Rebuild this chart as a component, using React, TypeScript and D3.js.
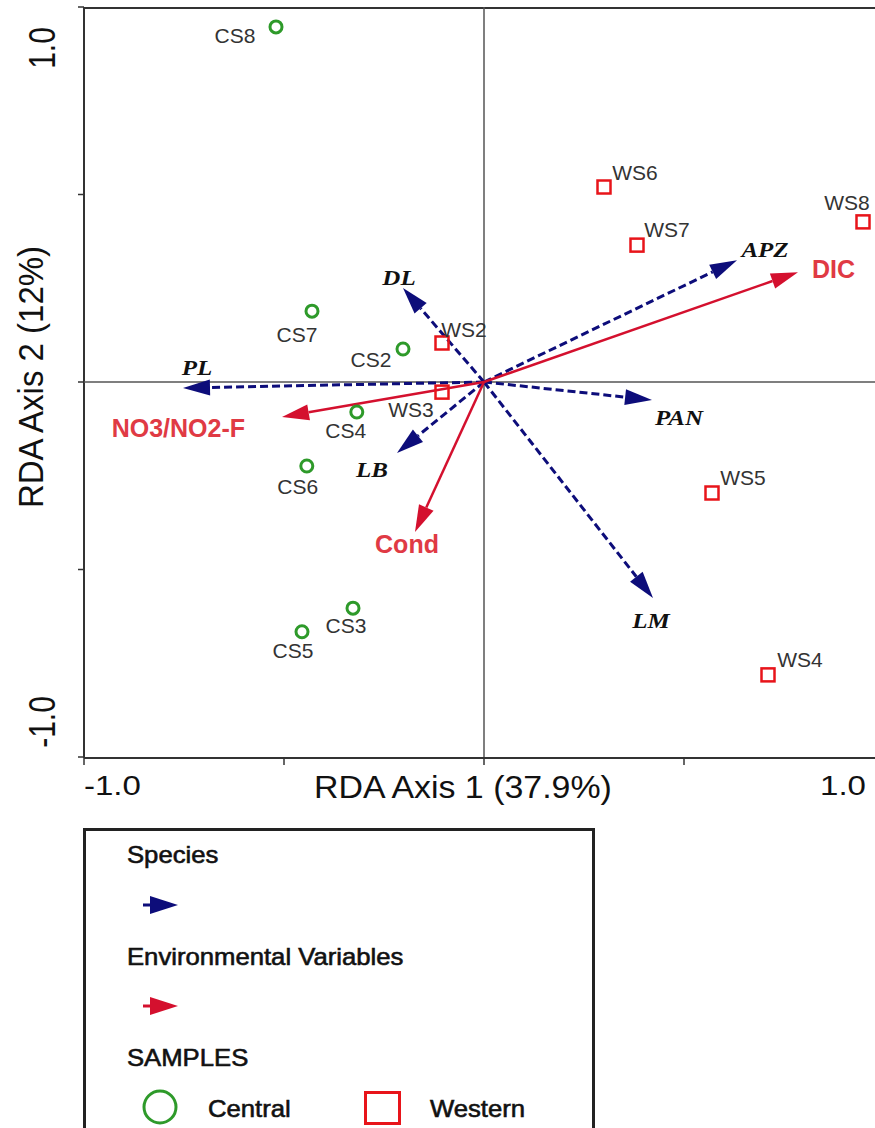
import * as d3 from "d3";

// sample scores (RDA axis 1, axis 2)
const centralNames = ["CS2", "CS3", "CS4", "CS5", "CS6", "CS7", "CS8"];
const centralX = [-0.2025, -0.3275, -0.318, -0.455, -0.443, -0.43, -0.52];
const centralY = [0.088, -0.603, -0.08, -0.666, -0.224, 0.189, 0.947];

const westernNames = ["WS2", "WS3", "WS4", "WS5", "WS6", "WS7", "WS8"];
const westernX = [-0.105, -0.105, 0.71, 0.57, 0.3, 0.3825, 0.9475];
const westernY = [0.104, -0.027, -0.781, -0.296, 0.52, 0.365, 0.427];

// species arrows
const speciesNames = ["DL", "PL", "LB", "APZ", "PAN", "LM"];
const speciesX = [-0.2025, -0.7525, -0.2175, 0.6325, 0.42, 0.4225];
const speciesY = [0.251, -0.016, -0.189, 0.325, -0.048, -0.576];

// environmental variable arrows
const envNames = ["DIC", "NO3/NO2-F", "Cond"];
const envX = [0.785, -0.505, -0.1725];
const envY = [0.293, -0.093, -0.4];

const xTicks = [-1, -0.5, 0, 0.5];
const yTicks = [-1, -0.5, 0, 0.5, 1];

const W = 875;
const H = 1128;
const NAVY = "#0d0d7a";
const RED = "#d4102e";
const RED_TXT = "#e03a44";
const GREEN = "#2e9a2a";
const SQ = "#e8141a";

const x = d3.scaleLinear().domain([-1, 1]).range([84, 884]);
const y = d3.scaleLinear().domain([-1, 1]).range([757, 7]);

// label offsets in px from the mark: [dx, dy]
const centralLab: Record<string, [number, number]> = {
  CS8: [-41, 16],
  CS7: [-15, 31],
  CS2: [-32, 18],
  CS4: [-11, 26],
  CS6: [-9, 28],
  CS3: [-7, 25],
  CS5: [-9, 26],
};
const westernLab: Record<string, [number, number]> = {
  WS2: [22, -6],
  WS3: [-31, 25],
  WS4: [32, -8],
  WS5: [31, -8],
  WS6: [31, -7],
  WS7: [30, -8],
  WS8: [-16, -12],
};
const speciesLab: Record<string, [number, number]> = {
  DL: [-4, -3],
  PL: [14, -13],
  LB: [-25, 24],
  APZ: [28, -3],
  PAN: [27, 25],
  LM: [-2, 30],
};
const envLab: Record<string, [number, number, string]> = {
  DIC: [14, 6, "start"],
  "NO3/NO2-F": [-37, 20, "end"],
  Cond: [-8, 21, "middle"],
};

function arrow(x0: number, y0: number, x1: number, y1: number, len: number, half: number) {
  const dx = x1 - x0;
  const dy = y1 - y0;
  const d = Math.hypot(dx, dy);
  const ux = dx / d;
  const uy = dy / d;
  const bx = x1 - ux * len;
  const by = y1 - uy * len;
  const head = `M${x1},${y1}L${bx - uy * half},${by + ux * half}L${bx + uy * half},${by - ux * half}Z`;
  return { bx, by, head };
}

// text with a slight horizontal stretch, like the original export
const at = (px: number, py: number, sx = 1, rot = 0) =>
  `translate(${px},${py}) scale(${sx},1)` + (rot ? ` rotate(${rot})` : "");

export default function App() {
  const ox = x(0);
  const oy = y(0);
  const sans = "Arial, 'Liberation Sans', sans-serif";
  const serif = "'Liberation Serif', 'Times New Roman', serif";

  return (
    <svg
      width={W}
      height={H}
      style={{ position: "absolute", left: 0, top: 0, background: "#fff" }}
      fontFamily={sans}
    >
      {/* frame */}
      <line x1={x(-1)} x2={W} y1={y(1) + 1} y2={y(1) + 1} stroke="#333" strokeWidth={2} />
      <line x1={x(-1)} x2={x(-1)} y1={y(1)} y2={y(-1) + 1} stroke="#333" strokeWidth={2} />
      <line x1={x(-1)} x2={W} y1={y(-1) + 1} y2={y(-1) + 1} stroke="#333" strokeWidth={2} />
      {/* zero lines */}
      <line x1={x(-1)} x2={W} y1={oy} y2={oy} stroke="#555" strokeWidth={1.5} />
      <line x1={ox} x2={ox} y1={y(1)} y2={y(-1)} stroke="#555" strokeWidth={1.5} />

      {xTicks.map((t) => (
        <line key={"xt" + t} x1={x(t)} x2={x(t)} y1={y(-1)} y2={y(-1) + 8} stroke="#333" strokeWidth={1.5} />
      ))}
      {yTicks.map((t) => (
        <line key={"yt" + t} x1={x(-1) - 6} x2={x(-1)} y1={y(t)} y2={y(t)} stroke="#333" strokeWidth={1.5} />
      ))}

      {/* tick labels */}
      <text transform={at(x(-1), 795, 1.18)} fontSize={28} fill="#111">-1.0</text>
      <text transform={at(866, 795, 1.18)} fontSize={28} fill="#111" textAnchor="end">1.0</text>
      <text transform={at(55, y(1) + 41, 1.2, -90)} fontSize={30} fill="#111" textAnchor="middle">1.0</text>
      <text transform={at(55, y(-1) - 35, 1.2, -90)} fontSize={30} fill="#111" textAnchor="middle">-1.0</text>

      {/* axis titles */}
      <text transform={at(463, 798, 1.06)} fontSize={32} fill="#111" textAnchor="middle">RDA Axis 1 (37.9%)</text>
      <text transform={at(43, 377, 1.05, -90)} fontSize={33} fill="#111" textAnchor="middle">RDA Axis 2 (12%)</text>

      {/* species arrows */}
      {speciesNames.map((n, i) => {
        const tx = x(speciesX[i]);
        const ty = y(speciesY[i]);
        const a = arrow(ox, oy, tx, ty, 27, 8);
        const [lx, ly] = speciesLab[n];
        return (
          <g key={n}>
            <line x1={ox} y1={oy} x2={a.bx} y2={a.by} stroke={NAVY} strokeWidth={3} strokeDasharray="8,4" />
            <path d={a.head} fill={NAVY} />
            <text transform={at(tx + lx, ty + ly, 1.25)} fontFamily={serif} fontStyle="italic" fontWeight="bold" fontSize={20} fill="#111" textAnchor="middle">{n}</text>
          </g>
        );
      })}

      {/* environmental arrows */}
      {envNames.map((n, i) => {
        const tx = x(envX[i]);
        const ty = y(envY[i]);
        const a = arrow(ox, oy, tx, ty, 27, 8);
        const [lx, ly, anc] = envLab[n];
        return (
          <g key={n}>
            <line x1={ox} y1={oy} x2={a.bx} y2={a.by} stroke={RED} strokeWidth={2.5} />
            <path d={a.head} fill={RED} />
            <text x={tx + lx} y={ty + ly} fontWeight="bold" fontSize={25} fill={RED_TXT} textAnchor={anc as any}>{n}</text>
          </g>
        );
      })}

      {/* samples */}
      {centralNames.map((n, i) => {
        const px = x(centralX[i]);
        const py = y(centralY[i]);
        const [lx, ly] = centralLab[n];
        return (
          <g key={n}>
            <circle cx={px} cy={py} r={6} fill="#fff" stroke={GREEN} strokeWidth={3} />
            <text x={px + lx} y={py + ly} fontSize={21} fill="#333" textAnchor="middle">{n}</text>
          </g>
        );
      })}
      {westernNames.map((n, i) => {
        const px = x(westernX[i]);
        const py = y(westernY[i]);
        const [lx, ly] = westernLab[n];
        return (
          <g key={n}>
            <rect x={px - 6.5} y={py - 6.5} width={13} height={13} fill="none" stroke={SQ} strokeWidth={2.5} />
            <text x={px + lx} y={py + ly} fontSize={21} fill="#333" textAnchor="middle">{n}</text>
          </g>
        );
      })}

      {/* legend */}
      <rect x={84.5} y={829.5} width={509} height={320} fill="#fff" stroke="#222" strokeWidth={3} />
      <g fontSize={24} fill="#111" stroke="#111" strokeWidth={0.6}>
        <text transform={at(127, 863, 1.07)}>Species</text>
        <text transform={at(127, 965, 1.07)}>Environmental Variables</text>
        <text transform={at(127, 1066, 1.07)}>SAMPLES</text>
        <text transform={at(208, 1117, 1.07)}>Central</text>
        <text transform={at(430, 1117, 1.07)}>Western</text>
      </g>
      <line x1={143} x2={156} y1={905} y2={905} stroke={NAVY} strokeWidth={3} />
      <path d="M178,905L150,896L150,914Z" fill={NAVY} />
      <line x1={143} x2={156} y1={1006} y2={1006} stroke={RED} strokeWidth={3} />
      <path d="M178,1006L150,997L150,1015Z" fill={RED} />
      <circle cx={160} cy={1107} r={16} fill="none" stroke={GREEN} strokeWidth={3} />
      <rect x={365.5} y={1092.5} width={34} height={31} fill="none" stroke={SQ} strokeWidth={3} />
    </svg>
  );
}
